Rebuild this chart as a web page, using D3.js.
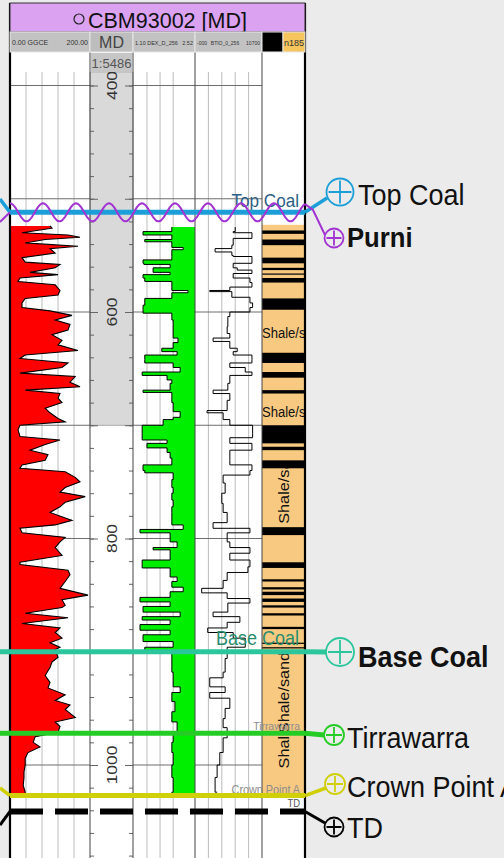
<!DOCTYPE html>
<html>
<head>
<meta charset="utf-8">
<script src="https://cdn.jsdelivr.net/npm/d3@7"></script>
<style>
  body { margin: 0; background: #ebebeb; }
  svg { display: block; font-family: "Liberation Sans", Arial, sans-serif; }
</style>
</head>
<body>
<div id="chart"></div>
<script>
// [depth m, value]
var grData = [[524,100],[526,105],[530,30],[532,145],[534,175],[536,88],[539,38],[542,170],[544,100],[548,113],[552,30],[556,38],[558,125],[561,113],[565,50],[567,120],[570,25],[573,20],[576,113],[581,125],[585,120],[588,38],[592,30],[596,30],[599,100],[603,155],[607,113],[611,150],[616,145],[620,105],[625,130],[629,120],[634,170],[638,38],[641,25],[645,145],[649,130],[654,25],[657,163],[662,150],[666,175],[669,38],[672,125],[676,120],[680,130],[685,88],[689,100],[694,120],[697,138],[700,25],[704,20],[710,25],[713,125],[717,88],[722,50],[726,95],[731,88],[735,30],[738,25],[741,138],[746,163],[750,175],[755,138],[759,125],[763,188],[768,138],[772,125],[777,100],[784,155],[788,113],[791,25],[795,30],[799,138],[803,125],[808,113],[815,130],[821,25],[823,25],[828,145],[832,150],[838,138],[844,125],[850,195],[854,130],[859,138],[861,130],[866,38],[870,145],[875,30],[879,125],[883,113],[888,130],[892,100],[896,125],[898,113],[905,120],[909,105],[914,100],[921,88],[927,100],[932,95],[938,138],[943,113],[947,150],[951,138],[958,163],[962,113],[966,125],[971,120],[975,63],[980,58],[984,75],[989,45],[994,38],[1000,38],[1006,35],[1011,35],[1018,33],[1024,38],[1026,38]];

var dexData = [[525,1.99],[529,1.33],[532,1.99],[536,1.37],[538,1.99],[543,2.25],[545,1.99],[551,1.99],[554,1.33],[557,1.35],[558,1.95],[561,1.56],[565,1.95],[567,1.33],[570,1.37],[573,1.99],[578,1.99],[581,2.36],[583,1.99],[588,1.37],[594,1.33],[598,1.33],[601,1.99],[607,2.02],[616,2.02],[623,2.13],[627,2.02],[632,1.76],[635,2.11],[638,1.37],[642,1.37],[645,2.02],[649,2.18],[653,1.31],[656,1.88],[660,1.99],[663,1.95],[669,1.33],[671,1.99],[675,1.99],[680,2.02],[688,2.18],[693,2.02],[695,1.79],[700,1.31],[707,1.31],[713,1.88],[716,1.42],[720,1.88],[724,1.95],[729,1.99],[735,1.33],[740,1.37],[742,2.02],[748,1.99],[755,2.02],[760,1.99],[766,2.02],[772,1.99],[777,1.99],[788,2.25],[792,1.26],[795,1.95],[803,2.11],[808,1.56],[810,1.95],[819,1.31],[825,1.31],[826,1.95],[834,2.11],[838,1.99],[843,2.25],[847,1.95],[852,1.26],[856,1.95],[860,1.33],[865,2.18],[869,1.31],[872,1.95],[876,1.26],[881,1.95],[885,1.33],[891,2.02],[896,1.37],[900,1.99],[909,1.99],[918,2.02],[931,2.18],[936,1.99],[944,2.06],[953,1.99],[962,2.11],[971,2.02],[980,1.99],[989,2.02],[1000,1.99],[1011,2.02],[1024,1.99],[1028,1.99]];

var btioData = [[525,60],[529,57],[530,85],[534,85],[535,57],[541,55],[544,30],[547,55],[550,57],[551,85],[556,85],[557,57],[561,63],[563,85],[566,57],[570,82],[574,85],[578,52],[581,22],[582,55],[587,82],[592,86],[596,82],[600,52],[604,49],[613,48],[619,52],[623,27],[626,52],[632,63],[635,57],[638,85],[642,85],[645,52],[649,75],[653,85],[656,52],[663,49],[669,27],[672,52],[678,48],[687,18],[689,42],[695,52],[700,86],[707,86],[711,52],[716,85],[722,52],[731,52],[735,85],[740,82],[744,42],[751,45],[760,40],[769,42],[777,48],[786,27],[791,82],[795,48],[803,52],[808,82],[813,52],[819,82],[825,79],[830,48],[837,42],[844,10],[848,48],[853,82],[857,49],[865,27],[869,67],[874,48],[879,19],[883,57],[888,75],[896,48],[906,45],[918,42],[923,22],[931,45],[936,22],[941,52],[950,45],[959,42],[967,48],[976,42],[989,37],[1000,33],[1011,30],[1024,33]];

// lithology: column extent, coal beds [top, base], labelled units
var lithRange = [523, 1026];
var coalBeds = [[528,531],[536,541],[552,557],[561,563],[566,567],[570,574],[588,598],[636,645],[653,658],[669,672],[700,716],[719,722],[731,738],[790,797],[821,826],[836,838],[843,845],[847,850],[853,856],[859,861],[866,868],[878,880],[892,893],[896,897]];
var lithUnitTops = [598, 672, 738, 900, 972];
var lithUnitBases = [636, 700, 790, 972, 1026];
var lithUnitLabels = ["Shale/sand", "Shale/sand", "Shale/sand", "Shale/sand", "Shale/sand"];
var lithLabelDepths = [623, 693, 787, 936, 1003];

var topNames = ["Top Coal", "Purni", "Base Coal", "Tirrawarra", "Crown Point A", "TD"];
var topDepths = [512, 512, 900, 972, 1027, 1041];

var depthLabels = [400, 600, 800, 1000];
var shadedInterval = [388, 700];

var W = 504, H = 858;
var plotTop = 72, plotBottom = 858;

var svg = d3.select("#chart").append("svg")
  .attr("width", W)
  .attr("height", H);

var y = d3.scaleLinear().domain([400, 1000]).range([85.5, 765]);
var xGr = d3.scaleLinear().domain([0, 200]).range([10, 90]);
var xDex = d3.scaleLinear().domain([1.10, 2.52]).range([133, 195]);
var xBtio = d3.scaleLinear().domain([0, 100]).range([195, 262]);
var depthX = [90, 133], lithX = [262, 305];

svg.append("rect").attr("width", W).attr("height", H).attr("fill", "#ebebeb");

svg.append("defs").append("clipPath").attr("id", "plotclip")
  .append("rect").attr("x", 10).attr("y", plotTop).attr("width", 295).attr("height", plotBottom - plotTop);

// white panel below header
svg.append("rect").attr("x", 10).attr("y", 52).attr("width", 295).attr("height", H - 52).attr("fill", "#fff");

var plot = svg.append("g").attr("clip-path", "url(#plotclip)");

// shaded depth band
plot.append("rect")
  .attr("x", depthX[0]).attr("width", depthX[1] - depthX[0])
  .attr("y", y(shadedInterval[0])).attr("height", y(shadedInterval[1]) - y(shadedInterval[0]))
  .attr("fill", "#d9d9d9").attr("stroke", "#999").attr("stroke-width", 0.8);

// vertical grid
var vgrid = [].concat(
  [40, 80, 120, 160].map(function (v) { return xGr(v); }),
  [1.42, 1.72, 2.02].map(function (v) { return xDex(v); }),
  [20, 40, 60, 80].map(function (v) { return xBtio(v); })
);
plot.selectAll(".vg").data(vgrid).enter().append("line")
  .attr("x1", function (d) { return d; }).attr("x2", function (d) { return d; })
  .attr("y1", plotTop).attr("y2", plotBottom)
  .attr("stroke", "#b4b4b4").attr("stroke-width", 0.9);

// horizontal major grid every 100 m in the curve tracks
var majors = d3.range(400, 1100, 100);
[[10, 90], [133, 262]].forEach(function (seg) {
  plot.selectAll(null).data(majors).enter().append("line")
    .attr("x1", seg[0]).attr("x2", seg[1])
    .attr("y1", function (d) { return y(d); }).attr("y2", function (d) { return y(d); })
    .attr("stroke", "#6e6e6e").attr("stroke-width", 1);
});

// depth track ticks
var minors = d3.range(400, 1100, 20);
function depthTicks(axisFn, x, vals, size) {
  var g = plot.append("g").attr("transform", "translate(" + x + ",0)")
    .call(axisFn(y).tickValues(vals).tickSize(size).tickFormat(""));
  g.select(".domain").remove();
  g.selectAll("line").attr("stroke", "#666");
}
depthTicks(d3.axisRight, depthX[0], minors, 4);
depthTicks(d3.axisLeft, depthX[1], minors, 4);
depthTicks(d3.axisRight, depthX[0], majors, 8);
depthTicks(d3.axisLeft, depthX[1], majors, 8);

plot.selectAll(".dl").data(depthLabels).enter().append("text")
  .attr("transform", function (d) { return "translate(117," + y(d) + ") scale(1,1.12) rotate(-90)"; })
  .attr("text-anchor", "middle")
  .attr("font-size", 15.5)
  .attr("fill", "#333")
  .text(function (d) { return d; });

// GR track: red fill from left edge
plot.append("path").datum(grData)
  .attr("fill", "#ff0000")
  .attr("d", d3.area().x0(xGr(0)).x1(function (d) { return xGr(d[1]); }).y(function (d) { return y(d[0]); }));
plot.append("path").datum(grData)
  .attr("fill", "none").attr("stroke", "#000").attr("stroke-width", 1.1)
  .attr("d", d3.line().x(function (d) { return xGr(d[1]); }).y(function (d) { return y(d[0]); }));

// DEX track: green fill to right edge, blocky steps
plot.append("path").datum(dexData)
  .attr("fill", "#00ee00")
  .attr("d", d3.area().curve(d3.curveStepBefore)
    .x0(function (d) { return xDex(d[1]); }).x1(xDex(2.52)).y(function (d) { return y(d[0]); }));
plot.append("path").datum(dexData)
  .attr("fill", "none").attr("stroke", "#000").attr("stroke-width", 1)
  .attr("d", d3.line().curve(d3.curveStepBefore)
    .x(function (d) { return xDex(d[1]); }).y(function (d) { return y(d[0]); }));

// BTIO track
plot.append("path").datum(btioData)
  .attr("fill", "none").attr("stroke", "#000").attr("stroke-width", 1)
  .attr("d", d3.line().curve(d3.curveStepBefore)
    .x(function (d) { return xBtio(d[1]); }).y(function (d) { return y(d[0]); }));

// lithology column
plot.append("rect")
  .attr("x", lithX[0]).attr("width", lithX[1] - lithX[0])
  .attr("y", y(lithRange[0])).attr("height", y(lithRange[1]) - y(lithRange[0]))
  .attr("fill", "#f7c981");

var defs = svg.select("defs");
lithUnitLabels.forEach(function (txt, i) {
  defs.append("clipPath").attr("id", "lu" + i).append("rect")
    .attr("x", lithX[0]).attr("width", lithX[1] - lithX[0] - 1)
    .attr("y", y(lithUnitTops[i])).attr("height", y(lithUnitBases[i]) - y(lithUnitTops[i]));
  var rotated = i >= 2;
  var t = plot.append("g").attr("clip-path", "url(#lu" + i + ")").append("text")
    .attr("font-size", rotated ? 15.5 : 14.5)
    .attr("fill", "#111")
    .text(txt);
  if (rotated) {
    t.attr("transform", "translate(289," + y(lithLabelDepths[i]) + ") scale(1,1.05) rotate(-90)")
      .attr("text-anchor", i === 3 ? "middle" : "start");
  } else {
    t.attr("transform", "translate(262," + y(lithLabelDepths[i]) + ") scale(0.9,1)");
  }
});

plot.selectAll(".coal").data(coalBeds).enter().append("rect")
  .attr("x", lithX[0]).attr("width", lithX[1] - lithX[0])
  .attr("y", function (d) { return y(d[0]); })
  .attr("height", function (d) { return Math.max(1.2, y(d[1]) - y(d[0])); })
  .attr("fill", "#000");

// track borders
[90, 133, 195, 262].forEach(function (x) {
  svg.append("line").attr("x1", x).attr("x2", x).attr("y1", 32).attr("y2", H)
    .attr("stroke", "#444").attr("stroke-width", 1);
});
[10, 305].forEach(function (x) {
  svg.append("line").attr("x1", x).attr("x2", x).attr("y1", 3).attr("y2", H)
    .attr("stroke", "#000").attr("stroke-width", 2.2);
});

// header
svg.append("rect").attr("x", 10).attr("y", 3).attr("width", 295).attr("height", 29)
  .attr("fill", "#dba2f2").attr("stroke", "#333").attr("stroke-width", 1);
svg.append("circle").attr("cx", 79).attr("cy", 19).attr("r", 5)
  .attr("fill", "none").attr("stroke", "#222").attr("stroke-width", 1.2);
svg.append("text").attr("x", 88).attr("y", 28).attr("font-size", 21.5).attr("fill", "#111")
  .text("CBM93002 [MD]");

var cells = [[10, 90, "#c2c2c2"], [90, 133, "#bdbdbd"], [133, 195, "#c2c2c2"], [195, 262, "#c2c2c2"], [262, 283, "#000"], [283, 305, "#f6c55e"]];
svg.selectAll(".hc").data(cells).enter().append("rect")
  .attr("x", function (d) { return d[0]; }).attr("y", 32)
  .attr("width", function (d) { return d[1] - d[0]; }).attr("height", 20)
  .attr("fill", function (d) { return d[2]; })
  .attr("stroke", "#e6e6e6").attr("stroke-width", 1);

function tiny(x, yy, txt, size, anchor) {
  svg.append("text").attr("x", x).attr("y", yy).attr("font-size", size)
    .attr("text-anchor", anchor || "start").attr("fill", "#333").text(txt);
}
tiny(12, 45, "0.00 GGCE", 7);
tiny(88, 45, "200.00", 7, "end");
tiny(135, 45, "1.10 DEX_D_256", 5.5);
tiny(193, 45, "2.52", 5.5, "end");
tiny(197, 45, "-000", 5);
tiny(225, 45, "BTIO_0_256", 5, "middle");
tiny(260, 45, "10700", 5, "end");
tiny(294, 46, "n185", 9, "middle");
svg.append("text").attr("x", 111.5).attr("y", 48).attr("text-anchor", "middle")
  .attr("font-size", 16).attr("fill", "#444").text("MD");

svg.append("rect").attr("x", 91).attr("y", 53).attr("width", 41).attr("height", 19).attr("fill", "#c6c6c6");
svg.append("text").attr("x", 111.5).attr("y", 68).attr("text-anchor", "middle")
  .attr("font-size", 13).attr("fill", "#555").text("1:5486");

// formation tops
var topStyle = {
  "Top Coal": { color: "#1c9fd9", width: 5 },
  "Purni": { color: "#a235d2", width: 2 },
  "Base Coal": { color: "#2cc69c", width: 5 },
  "Tirrawarra": { color: "#25cc25", width: 5 },
  "Crown Point A": { color: "#cfcf0a", width: 5 },
  "TD": { color: "#000", width: 6 }
};
var topMarker = {
  "Top Coal": { cx: 340, cy: 192, r: 13.5, lx: 358, ly: 205, size: 30, bold: false, leftY: 199, joint: [[327, 198]] },
  "Purni": { cx: 334, cy: 238, r: 9.5, lx: 347, ly: 247, size: 28.5, bold: true, leftY: 222, joint: [[313, 210], [325, 235]] },
  "Base Coal": { cx: 340, cy: 652, r: 14, lx: 358, ly: 667, size: 30, bold: true, leftY: null, joint: [[326, 652]] },
  "Tirrawarra": { cx: 334, cy: 735, r: 10, lx: 347, ly: 748, size: 30, bold: false, leftY: null, joint: [[324, 735]] },
  "Crown Point A": { cx: 335, cy: 784, r: 10, lx: 347, ly: 797, size: 30, bold: false, leftY: 788, joint: [[326, 788]] },
  "TD": { cx: 334, cy: 827, r: 9.5, lx: 347, ly: 838, size: 30, bold: false, leftY: 825, joint: [[325, 823]] }
};
var inner = {
  "Top Coal": { x: 299, y: 207, size: 19, color: "#2d5f85" },
  "Base Coal": { x: 299, y: 645, size: 20, color: "#2a8c6f" },
  "Tirrawarra": { x: 300, y: 730, size: 11.5, color: "#8c8c8c" },
  "Crown Point A": { x: 300, y: 794, size: 12, color: "#8c8c8c" },
  "TD": { x: 300, y: 807, size: 10.5, color: "#555" }
};

var tops = svg.append("g");
topNames.forEach(function (name, i) {
  var st = topStyle[name], mk = topMarker[name];
  var ty = y(topDepths[i]);
  var lw = name === "Purni" ? 2 : 3.5;

  if (inner[name]) {
    var c = inner[name];
    tops.append("text").attr("transform", "translate(" + c.x + "," + c.y + ") scale(0.9,1)")
      .attr("text-anchor", "end").attr("font-size", c.size).attr("fill", c.color).text(name);
  }

  // left stub
  tops.append("path")
    .attr("d", d3.line()([[0, mk.leftY == null ? ty : mk.leftY], [10, ty]]))
    .attr("fill", "none").attr("stroke", st.color).attr("stroke-width", name === "TD" ? 3 : (mk.leftY == null ? st.width : lw));

  // line across the panel
  if (name === "Purni") {
    var pts = d3.range(10, 306, 1).map(function (x) {
      return [x, ty - 9 * Math.cos(2 * Math.PI * (x - 10) / 33)];
    });
    tops.append("path").attr("d", d3.line()(pts))
      .attr("fill", "none").attr("stroke", st.color).attr("stroke-width", 2);
    tops.append("path").attr("d", d3.line()([pts[pts.length - 1]].concat(mk.joint)))
      .attr("fill", "none").attr("stroke", st.color).attr("stroke-width", 2);
  } else {
    tops.append("line").attr("x1", 10).attr("x2", 305).attr("y1", ty).attr("y2", ty)
      .attr("stroke", st.color).attr("stroke-width", st.width)
      .attr("stroke-dasharray", name === "TD" ? "33,12" : null);
    tops.append("path").attr("d", d3.line()([[305, ty]].concat(mk.joint)))
      .attr("fill", "none").attr("stroke", st.color)
      .attr("stroke-width", (name === "Base Coal" || name === "Tirrawarra") ? st.width : (name === "TD" ? 3 : lw));
  }

  // marker: circle with plus
  var m = tops.append("g").attr("transform", "translate(" + mk.cx + "," + mk.cy + ")");
  m.append("circle").attr("r", mk.r).attr("fill", "none").attr("stroke", st.color).attr("stroke-width", 1.8);
  m.append("path").attr("d", "M" + (-mk.r + 2) + ",0H" + (mk.r - 2) + "M0," + (-mk.r + 2) + "V" + (mk.r - 2))
    .attr("stroke", st.color).attr("stroke-width", 1.8);

  tops.append("text").attr("transform", "translate(" + mk.lx + "," + mk.ly + ") scale(0.9,1)")
    .attr("font-size", mk.size).attr("font-weight", mk.bold ? "bold" : "normal")
    .attr("fill", "#111").text(name);
});
</script>
</body>
</html>
